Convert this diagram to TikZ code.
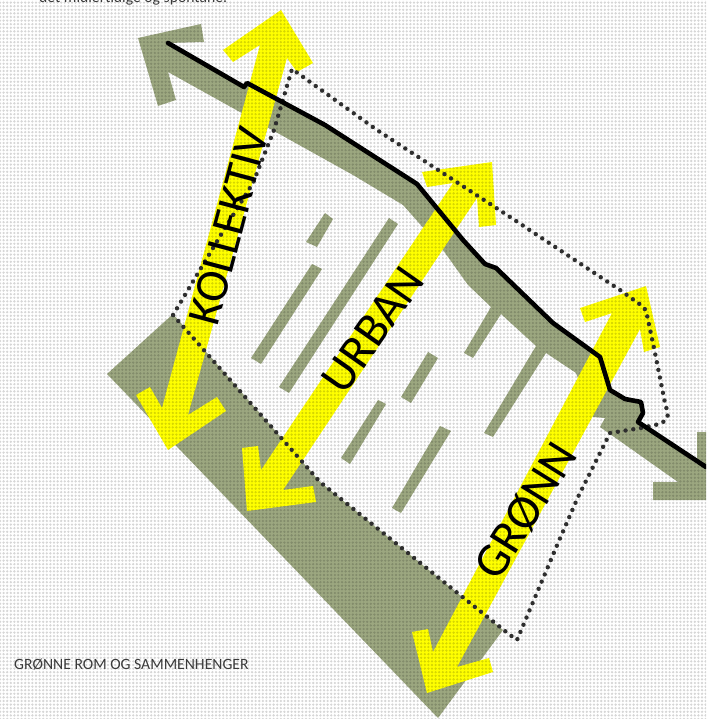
\documentclass[tikz,border=0pt]{standalone}
\usepackage{fontspec}
\setmainfont{Carlito}
\usetikzlibrary{patterns.meta}
\definecolor{gronn}{HTML}{9CA780}
\definecolor{gul}{HTML}{FFFF00}
\definecolor{skrift}{HTML}{3A3A3A}
\begin{document}
\begin{tikzpicture}[x=1pt,y=-1pt]
	\tikzset{
		flate/.style={fill=gronn, draw=none},
		pil/.style={fill=gul, draw=none},
		stripe/.style={fill=gronn, draw=none},
		grense/.style={draw=black!82, line width=4.4pt, line cap=round, line join=round, dash pattern=on 0pt off 7.8pt},
		gate/.style={draw=black, line width=4.6pt, line cap=round, line join=round},
		etikett/.style={text=black, inner sep=0pt},
		tekst/.style={font=\fontsize{15.7}{16}\selectfont, text=skrift, inner sep=0pt, anchor=base west}
	}
	\useasboundingbox (0,0) rectangle (706,719);
	\clip (0,0) rectangle (706,719);
	\fill[white] (0,0) rectangle (706,719);

	% Green band along the street, with its arrow heads
	\fill[flate] (168,43) -- (244,87) -- (247,83) -- (325,125) -- (417,184) -- (463,240) -- (485,264) -- (496,268) -- (553,323) -- (600,357) -- (610,390) -- (625,399) -- (641,402) -- (643,413) -- (638,422) -- (697,464) -- (697,432) -- (706,432) -- (706,500) -- (653,500) -- (653,482) -- (678,482) -- (600,427) -- (605,418) -- (593,417) -- (576,373) -- (546,353) -- (493,437) -- (484,433) -- (536,346) -- (501,314) -- (473,358) -- (464,353) -- (491,307) -- (468,285) -- (443,250) -- (403,205) -- (353,175) -- (168,72) -- (176,100) -- (158,106) -- (138,38) -- (201,24) -- (204,42) -- cycle;

	% Green park along the lower edge
	\fill[flate] (173,314) -- (107,374) -- (438,718) -- (503,630) -- (320,482) -- cycle;

	% Stripes between the arrows
	\fill[stripe] (325,213) -- (333,219) -- (317,247) -- (306,242) -- cycle;
	\fill[stripe] (312,264) -- (322,269) -- (261,364) -- (251,358) -- cycle;
	\fill[stripe] (389,218) -- (398,224) -- (289,393) -- (279,387) -- cycle;
	\fill[stripe] (428,352) -- (438,358) -- (411,403) -- (401,397) -- cycle;
	\fill[stripe] (378,400) -- (386,404) -- (350,464) -- (341,458) -- cycle;
	\fill[stripe] (440,426) -- (451,431) -- (401,513) -- (392,508) -- cycle;

	% Yellow arrows
	\fill[pil] (281,10) -- (313,63) -- (297,72) -- (287,58) -- (188,415) -- (217,397) -- (226,411) -- (168,450) -- (136,395) -- (150,387) -- (162,408) -- (260,45) -- (233,62) -- (223,50) -- cycle;
	\fill[pil] (492,162) -- (496,225) -- (479,227) -- (477,198) -- (283,490) -- (313,486) -- (316,502) -- (247,511) -- (242,448) -- (258,446) -- (261,470) -- (453,183) -- (427,187) -- (422,172) -- cycle;
	\fill[pil] (646,286) -- (660,347) -- (644,352) -- (640,329) -- (457,667) -- (489,658) -- (493,672) -- (427,693) -- (412,632) -- (428,629) -- (433,652) -- (612,313) -- (585,322) -- (580,308) -- cycle;

	% Raster over the whole page
	\fill[pattern={Dots[distance=3.6pt,radius=1.3pt]}, pattern color=black, opacity=0.16] (0,0) rectangle (706,719);

	% Boundary and street
	\draw[grense] (173,315) -- (222,233) -- (253,183) -- (274,130) -- (292,69) -- (377,130) -- (507,215) -- (620,290) -- (638,303) .. controls (644,306) and (646,310) .. (647,315) -- (655,353) -- (665,403) -- (668,414) .. controls (668,420) and (662,424) .. (655,425) -- (641,428) -- (610,433) -- (578,497) -- (558,543) -- (517,640) -- (510,635) -- (460,595) -- (320,482) -- cycle;
	\draw[gate] (168,43) -- (244,87) -- (247,83) -- (325,125) -- (417,184) -- (463,240) -- (485,264) -- (496,268) -- (553,323) -- (600,357) -- (610,390) -- (625,399) -- (641,402) -- (643,413) -- (638,422) -- (706,467);

	% Labels
	\node[etikett, font=\fontsize{47}{47}\selectfont, rotate=75] (kollektiv) at (229,226) {KOLLEKTIV};
	\node[etikett, font=\fontsize{48}{48}\selectfont, rotate=55] (urban) at (373,330) {URBAN};
	\node[etikett, font=\fontsize{48}{48}\selectfont, rotate=58] (gronn) at (526,511) {GRØNN};
	\node[tekst] (tittel) at (14,669) {GRØNNE ROM OG SAMMENHENGER};
	\node[tekst] (ingress) at (39,3) {det midlertidige og spontane.};
\end{tikzpicture}
\end{document}
